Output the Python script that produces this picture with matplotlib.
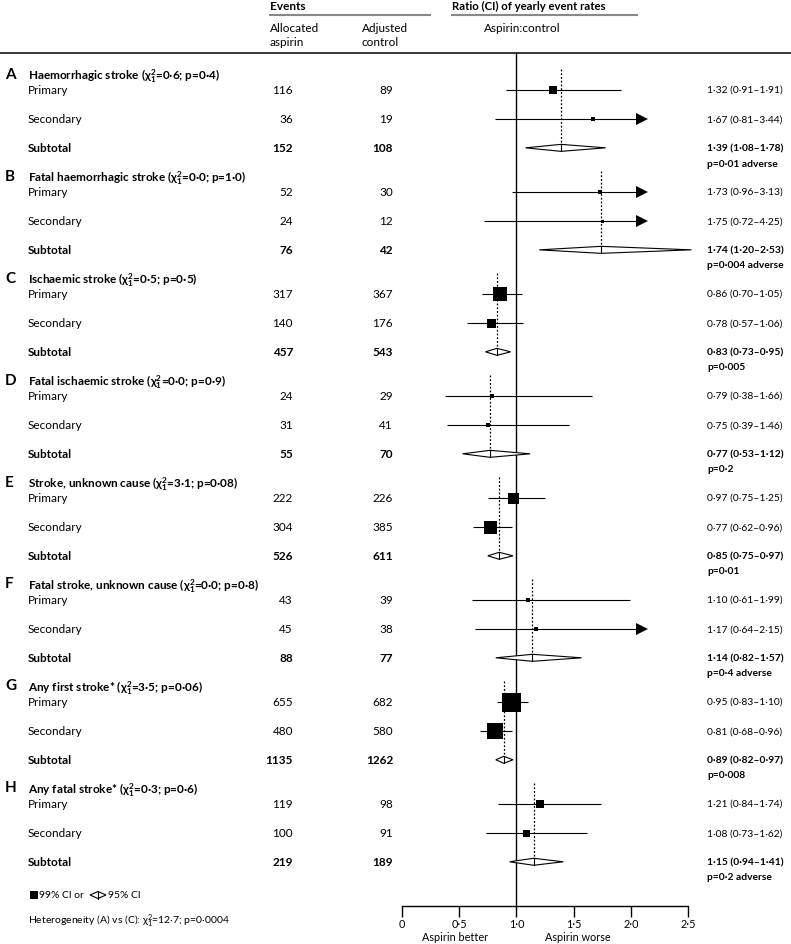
import matplotlib
matplotlib.use("Agg")
import matplotlib.pyplot as plt
import matplotlib.transforms as mtransforms
from matplotlib.lines import Line2D
from matplotlib.patches import Polygon

plt.rcParams['font.family'] = ['Lato', 'DejaVu Sans']
plt.rcParams['mathtext.default'] = 'regular'

letters = ["A", "B", "C", "D", "E", "F", "G", "H"]
groups = ["Haemorrhagic stroke", "Fatal haemorrhagic stroke", "Ischaemic stroke",
          "Fatal ischaemic stroke", "Stroke, unknown cause", "Fatal stroke, unknown cause",
          "Any first stroke*", "Any fatal stroke*"]
chi = ["0·6", "0·0", "0·5", "0·0", "3·1", "0·0", "3·5", "0·3"]
pvals = ["0·4", "1·0", "0·5", "0·9", "0·08", "0·8", "0·06", "0·6"]

asp_primary = [116, 52, 317, 24, 222, 43, 655, 119]
asp_secondary = [36, 24, 140, 31, 304, 45, 480, 100]
asp_total = [152, 76, 457, 55, 526, 88, 1135, 219]
ctl_primary = [89, 30, 367, 29, 226, 39, 682, 98]
ctl_secondary = [19, 12, 176, 41, 385, 38, 580, 91]
ctl_total = [108, 42, 543, 70, 611, 77, 1262, 189]

prim_est = [1.32, 1.73, 0.86, 0.79, 0.97, 1.10, 0.95, 1.21]
prim_lo = [0.91, 0.96, 0.70, 0.38, 0.75, 0.61, 0.83, 0.84]
prim_hi = [1.91, 3.13, 1.05, 1.66, 1.25, 1.99, 1.10, 1.74]
sec_est = [1.67, 1.75, 0.78, 0.75, 0.77, 1.17, 0.81, 1.08]
sec_lo = [0.81, 0.72, 0.57, 0.39, 0.62, 0.64, 0.68, 0.73]
sec_hi = [3.44, 4.25, 1.06, 1.46, 0.96, 2.15, 0.96, 1.62]
tot_est = [1.39, 1.74, 0.83, 0.77, 0.85, 1.14, 0.89, 1.15]
tot_lo = [1.08, 1.20, 0.73, 0.53, 0.75, 0.82, 0.82, 0.94]
tot_hi = [1.78, 2.53, 0.95, 1.12, 0.97, 1.57, 0.97, 1.41]
tot_p = ["p=0·01 adverse", "p=0·004 adverse", "p=0·005", "p=0·2", "p=0·01",
         "p=0·4 adverse", "p=0·008", "p=0·2 adverse"]

# square sizes (weight of evidence)
prim_size = [8, 5, 14, 4, 11, 5, 19, 8]
sec_size = [4, 3, 9, 5, 13, 5, 16, 7]

xticks = [0, 0.5, 1.0, 1.5, 2.0, 2.5]
xticklabels = ["0", "0·5", "1·0", "1·5", "2·0", "2·5"]
arrow_cut = 2.1

W, H = 791, 945
fig = plt.figure(figsize=(W / 100, H / 100), dpi=100)

# forest panel: x 0..2.5 over pixels 402..687, y in row units
y0_px, unit_px = 76, 29.14
top_px, bot_px = 54, 907
ax = fig.add_axes([402 / W, 1 - bot_px / H, 286 / W, (bot_px - top_px) / H])
ax.set_xlim(0, 2.5)
ax.set_ylim((bot_px - y0_px) / unit_px, (top_px - y0_px) / unit_px)
for s in ["top", "right", "left"]:
    ax.spines[s].set_visible(False)
ax.spines["bottom"].set_linewidth(1.0)
ax.set_yticks([])
ax.set_xticks(xticks)
ax.set_xticklabels(xticklabels, fontsize=7.8)
ax.tick_params(axis="x", direction="out", length=8, width=1.0, pad=1)
ax.axvline(1.0, color="black", lw=1.0, clip_on=False)

fx = mtransforms.blended_transform_factory(fig.transFigure, ax.transData)
fs = 8.5
fs_r = 7.4


def px(x):
    return x / W


def fmt(v):
    return f"{v:.2f}".replace(".", "·")


def ci_row(y, est, lo, hi, size):
    end = min(hi, arrow_cut)
    ax.plot([lo, end], [y, y], color="black", lw=0.8, solid_capstyle="butt")
    if hi > arrow_cut:
        ax.plot([arrow_cut], [y], marker=">", color="black", markersize=8,
                markeredgewidth=0, clip_on=False)
    ax.plot([est], [y], marker="s", color="black", markersize=size * 0.72,
            markeredgewidth=0)


for g in range(len(groups)):
    yh = g * 3.5
    yp, ys, yt = yh + 0.5, yh + 1.5, yh + 2.5

    ax.plot([tot_est[g], tot_est[g]], [yh - 0.2, yt], color="black", lw=0.9,
            ls=(0, (1.5, 1.5)))
    ci_row(yp, prim_est[g], prim_lo[g], prim_hi[g], prim_size[g])
    ci_row(ys, sec_est[g], sec_lo[g], sec_hi[g], sec_size[g])
    h = 0.12
    ax.add_patch(Polygon([[tot_lo[g], yt], [tot_est[g], yt - h], [tot_hi[g], yt],
                          [tot_est[g], yt + h]], closed=True, facecolor="white",
                         edgecolor="black", lw=0.8, clip_on=False, zorder=3))
    ax.plot([tot_est[g], tot_est[g]], [yt - h, yt + h], color="black", lw=0.8, zorder=4)

    ax.text(px(5), yh - 0.05, letters[g], transform=fx, fontsize=11, va="center",
            fontweight="bold")
    ax.text(px(28), yh, groups[g] + " ($\\chi^2_1$=" + chi[g] + "; p=" + pvals[g] + ")",
            transform=fx, fontsize=fs, fontweight="bold", va="center")
    ax.text(px(28), yp, "Primary", transform=fx, fontsize=fs, va="center")
    ax.text(px(28), ys, "Secondary", transform=fx, fontsize=fs, va="center")
    ax.text(px(28), yt, "Subtotal", transform=fx, fontsize=fs, va="center",
            fontweight="bold")

    ax.text(px(293), yp, str(asp_primary[g]), transform=fx, fontsize=fs, va="center", ha="right")
    ax.text(px(293), ys, str(asp_secondary[g]), transform=fx, fontsize=fs, va="center", ha="right")
    ax.text(px(293), yt, str(asp_total[g]), transform=fx, fontsize=fs, va="center",
            ha="right", fontweight="bold")
    ax.text(px(393), yp, str(ctl_primary[g]), transform=fx, fontsize=fs, va="center", ha="right")
    ax.text(px(393), ys, str(ctl_secondary[g]), transform=fx, fontsize=fs, va="center", ha="right")
    ax.text(px(393), yt, str(ctl_total[g]), transform=fx, fontsize=fs, va="center",
            ha="right", fontweight="bold")

    ax.text(px(707), yp, f"{fmt(prim_est[g])} ({fmt(prim_lo[g])}–{fmt(prim_hi[g])})",
            transform=fx, fontsize=fs_r, va="center")
    ax.text(px(707), ys, f"{fmt(sec_est[g])} ({fmt(sec_lo[g])}–{fmt(sec_hi[g])})",
            transform=fx, fontsize=fs_r, va="center")
    ax.text(px(707), yt, f"{fmt(tot_est[g])} ({fmt(tot_lo[g])}–{fmt(tot_hi[g])})",
            transform=fx, fontsize=fs_r, va="center", fontweight="bold")
    ax.text(px(707), yt + 0.52, tot_p[g], transform=fx, fontsize=fs_r, va="center",
            fontweight="bold")


# header
def ftext(x, y, s, **kw):
    kw.setdefault("fontsize", fs)
    fig.text(x / W, 1 - y / H, s, va="center", **kw)


ftext(270, 6, "Events", fontweight="bold")
ftext(452, 6, "Ratio (CI) of yearly event rates", fontweight="bold", fontsize=8.2)
ftext(270, 28, "Allocated")
ftext(270, 43, "aspirin")
ftext(362, 28, "Adjusted")
ftext(362, 43, "control")
ftext(484, 28, "Aspirin:control")
fig.add_artist(Line2D([270 / W, 430 / W], [1 - 16 / H] * 2, color="#888888", lw=1.5))
fig.add_artist(Line2D([452 / W, 637 / W], [1 - 16 / H] * 2, color="#888888", lw=1.5))
fig.add_artist(Line2D([0, 1], [1 - 54 / H] * 2, color="black", lw=1.1))

# legend and footnote
fig.add_artist(Line2D([34 / W], [1 - 896 / H], marker="s", color="black",
                      markersize=6, markeredgewidth=0))
ftext(39, 896, "99% CI or", fontsize=7.4)
dx, dy, cx = 8, 3.5, 98
fig.add_artist(Polygon([[(cx - dx) / W, 1 - 896 / H], [cx / W, 1 - (896 - dy) / H],
                        [(cx + dx) / W, 1 - 896 / H], [cx / W, 1 - (896 + dy) / H]],
                       closed=True, facecolor="white", edgecolor="black", lw=0.8,
                       transform=fig.transFigure))
fig.add_artist(Line2D([cx / W] * 2, [1 - (896 - dy) / H, 1 - (896 + dy) / H],
                      color="black", lw=0.8))
ftext(108, 896, "95% CI", fontsize=7.4)
ftext(28, 921, "Heterogeneity (A) vs (C): $\\chi^2_1$=12·7; p=0·0004", fontsize=7.5)

ftext(455, 938, "Aspirin better", ha="center", fontsize=7.8)
ftext(578, 938, "Aspirin worse", ha="center", fontsize=7.8)

fig.savefig("out.png", dpi=100)
